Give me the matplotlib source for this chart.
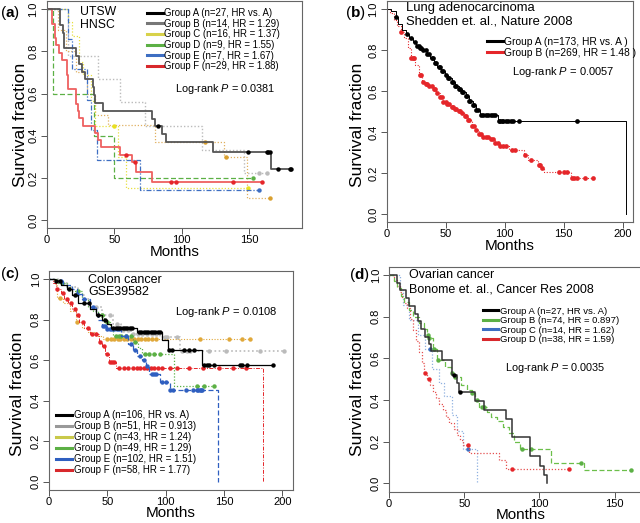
import numpy as np
import matplotlib.pyplot as plt
from matplotlib.lines import Line2D

plt.rcParams['font.family'] = ['Liberation Sans', 'DejaVu Sans']
plt.rcParams['mathtext.fontset'] = 'custom'
plt.rcParams['mathtext.rm'] = 'Liberation Sans'
plt.rcParams['mathtext.it'] = 'Liberation Sans:italic'
plt.rcParams['mathtext.bf'] = 'Liberation Sans:bold'

# ---------------- panel (a) UTSW HNSC ----------------
a_A_t = [0, 10, 12, 13, 22, 24, 26, 28, 34, 35, 36, 42, 78, 80, 85, 88, 123, 166]
a_A_s = [1, 0.926, 0.889, 0.815, 0.778, 0.741, 0.704, 0.667, 0.63, 0.593, 0.556, 0.519, 0.481, 0.444, 0.407, 0.37, 0.324, 0.243]
a_A_c = [82, 149, 163, 164, 165, 171, 180, 181]
a_B_t = [0, 16, 38, 54, 73, 115, 146]
a_B_s = [1, 0.78, 0.67, 0.56, 0.446, 0.33, 0.224]
a_B_c = [157, 163]
a_C_t = [0, 16, 19, 24, 27, 33, 36, 53, 59]
a_C_s = [1, 0.938, 0.875, 0.75, 0.688, 0.563, 0.446, 0.30, 0.15]
a_C_c = [50, 149]
a_C2_t = [0, 8, 14, 22, 30, 36, 45, 80, 131, 148]
a_C2_s = [1, 0.9, 0.8, 0.7, 0.6, 0.5, 0.45, 0.372, 0.30, 0.104]
a_C2_c = [117, 133, 165]
a_D_t = [0, 5, 35, 50]
a_D_s = [1, 0.6, 0.4, 0.2]
a_D_c = [153]
a_E_t = [0, 16, 19, 30, 33, 37, 69]
a_E_s = [1, 0.857, 0.714, 0.571, 0.429, 0.286, 0.143]
a_E_c = [157]
a_F_t = [0, 4, 6, 7, 9, 11, 15, 16, 22, 23, 24, 27, 36, 38, 40, 54, 63, 66, 78]
a_F_s = [1, 0.931, 0.862, 0.828, 0.793, 0.759, 0.69, 0.621, 0.552, 0.517, 0.483, 0.448, 0.414, 0.379, 0.345, 0.31, 0.274, 0.228, 0.182]
a_F_c = [59, 65, 92, 96, 138, 159]
a_labels = ['Group A (n=27, HR vs. A)', 'Group B (n=14, HR = 1.29)', 'Group C (n=16, HR = 1.37)',
            'Group D (n=9, HR = 1.55)', 'Group E (n=7, HR = 1.67)', 'Group F (n=29, HR = 1.88)']

# ---------------- panel (b) lung ----------------
b_A_t = [0, 4, 7.5, 10, 13, 16, 19, 22, 25, 28, 31, 34, 37, 40, 43, 46, 49, 52, 55, 58, 61, 64, 67, 70, 73, 76, 79, 94.5, 203]
b_A_s = [1, 0.99, 0.96, 0.93, 0.90, 0.88, 0.86, 0.84, 0.82, 0.81, 0.80, 0.78, 0.76, 0.74, 0.72, 0.70, 0.68, 0.665, 0.645,
         0.625, 0.61, 0.595, 0.575, 0.555, 0.535, 0.51, 0.485, 0.457, 0.0]
b_A_c = [7.5, 17, 21, 24, 26, 27, 28, 29, 31, 33, 34, 36, 38, 39, 41, 42, 44, 45, 47, 48, 50, 52, 53, 55, 56, 58, 59,
         61, 62, 64, 65, 67, 68, 70, 71, 73, 74, 76, 77, 80, 82, 84, 86, 88, 90, 92, 95, 96, 98, 99, 101, 103, 105, 107,
         112, 161]
b_B_t = [0, 3, 6, 9, 12, 15, 18, 21, 24, 27, 30, 33, 36, 39, 42, 45, 48, 51, 54, 57, 60, 63, 66, 69, 72, 75, 78, 82,
         88, 92, 96, 104, 116, 120, 128, 131, 133, 156]
b_B_s = [1, 0.98, 0.95, 0.92, 0.89, 0.86, 0.81, 0.76, 0.73, 0.68, 0.645, 0.635, 0.625, 0.61, 0.59, 0.57, 0.55, 0.54,
         0.525, 0.515, 0.505, 0.495, 0.48, 0.46, 0.43, 0.41, 0.39, 0.375, 0.365, 0.35, 0.333, 0.314, 0.289, 0.265,
         0.24, 0.224, 0.208, 0.175]
b_B_c = [12, 21, 22, 23, 28, 29, 31, 33, 34, 36, 38, 40, 41, 43, 45, 47, 48, 50, 51, 53, 55, 56, 58, 59, 61, 62, 64,
         66, 67, 69, 70, 72, 74, 76, 78, 80, 82, 84, 86, 88, 90, 92, 94, 96, 99, 101, 106, 109, 117, 122, 129, 130,
         132, 146, 150, 153, 157, 159, 161, 168, 175]
b_labels = ['Group A (n=173, HR vs. A )', 'Group B (n=269, HR = 1.48 )']

# ---------------- panel (c) colon ----------------
c_A_t = [0, 5, 10, 15, 20, 25, 35, 40, 45, 50, 53, 75, 97, 102, 131.5]
c_A_s = [1, 0.99, 0.97, 0.95, 0.92, 0.88, 0.85, 0.82, 0.80, 0.78, 0.76, 0.74, 0.70, 0.65, 0.575]
c_A_c = [6, 9, 17, 22, 30, 34, 42, 48, 55, 57, 59, 61, 63, 65, 67, 69, 71, 77, 79, 81, 83, 85, 87, 89, 91, 93, 95,
         103, 105, 116, 120, 124, 133, 135, 137, 141, 164, 165, 170, 192]
c_B_t = [0, 8, 15, 25, 30, 35, 45, 55, 62, 70, 95, 112]
c_B_s = [1, 0.98, 0.96, 0.92, 0.90, 0.86, 0.82, 0.78, 0.75, 0.73, 0.715, 0.645]
c_B_c = [40, 45, 52, 58, 63, 68, 72, 76, 80, 84, 88, 92, 99, 101, 110, 114, 118, 121, 137, 152, 181, 201]
c_C_t = [0, 4, 7, 12, 18, 23, 28, 33, 40, 46]
c_C_s = [1, 0.975, 0.905, 0.88, 0.84, 0.79, 0.76, 0.74, 0.72, 0.703]
c_C_c = [9, 24, 50, 53, 56, 59, 61, 64, 67, 70, 73, 76, 79, 82, 85, 88, 92, 129, 154, 165, 172]
c_D_t = [0, 8, 15, 20, 28, 33, 38, 42, 47, 52, 55, 72, 76, 80, 107]
c_D_s = [1, 0.98, 0.96, 0.94, 0.90, 0.86, 0.84, 0.82, 0.79, 0.76, 0.72, 0.69, 0.66, 0.63, 0.47]
c_D_c = [11, 25, 45, 50, 57, 60, 62, 66, 70, 74, 82, 86, 90, 95, 127, 133, 141]
c_E_t = [0, 5, 12, 20, 24, 28, 35, 40, 42, 45, 50, 62, 68, 72, 75, 80, 83, 86, 95, 104, 145]
c_E_s = [1, 0.99, 0.97, 0.95, 0.925, 0.90, 0.86, 0.83, 0.80, 0.77, 0.755, 0.72, 0.68, 0.65, 0.62, 0.60, 0.57, 0.53,
         0.49, 0.45, 0.0]
c_E_c = [10, 24, 30, 38, 46, 48, 50, 52, 54, 56, 58, 60, 66, 70, 74, 78, 81, 84, 88, 90, 92, 97, 100, 104, 106, 117,
         123, 127, 128, 129, 130, 131]
c_F_t = [0, 3, 6, 10, 13, 16, 20, 23, 26, 30, 35, 43, 45, 48, 51, 57, 183]
c_F_s = [1, 0.98, 0.95, 0.93, 0.90, 0.88, 0.85, 0.82, 0.79, 0.76, 0.73, 0.69, 0.67, 0.63, 0.59, 0.56, 0.0]
c_F_c = [7, 12, 15, 19, 22, 25, 29, 33, 37, 40, 44, 47, 50, 52, 54, 56, 60, 64, 68, 72, 75, 78, 81, 84, 87, 90, 93,
         97, 104, 110, 120, 132, 146, 158, 169]
c_labels = ['Group A (n=106, HR vs. A)', 'Group B (n=51, HR = 0.913)', 'Group C (n=43, HR = 1.24)',
            'Group D (n=49, HR = 1.29)', 'Group E (n=102, HR = 1.51)', 'Group F (n=58, HR = 1.77)']

# ---------------- panel (d) ovarian ----------------
d_A_t = [0, 5, 7.5, 11, 13.5, 17, 19.5, 21.5, 24, 26.5, 28, 35, 42, 45, 46.5, 57, 63, 77.5, 81.5, 94, 100.5, 103, 105]
d_A_s = [1, 0.963, 0.926, 0.889, 0.852, 0.815, 0.778, 0.741, 0.704, 0.667, 0.636, 0.593, 0.52, 0.48, 0.437, 0.394,
         0.352, 0.307, 0.221, 0.131, 0.083, 0.04, 0.0]
d_A_c = [43.5, 47.5]
d_B_t = [0, 3, 5, 8, 10, 13, 16, 20, 23, 25, 26, 29, 32, 37, 41, 44, 48, 52, 55, 57, 60, 65, 68, 72, 76, 80, 83, 87,
         108, 129.5]
d_B_s = [1, 0.97, 0.94, 0.9, 0.87, 0.83, 0.8, 0.77, 0.74, 0.712, 0.70, 0.643, 0.59, 0.56, 0.528, 0.512, 0.47, 0.45,
         0.435, 0.40, 0.368, 0.34, 0.32, 0.3, 0.27, 0.24, 0.2, 0.163, 0.096, 0.064]
d_B_c = [25.6, 26.3, 29.6, 32.3, 41.9, 44.1, 55.3, 58.6, 61.9, 63, 88.7, 94.7, 127.7, 160.6]
d_C_t = [0, 7, 9, 13, 19, 24, 28.5, 33, 36.5, 42, 45, 49, 58.6]
d_C_s = [1, 0.929, 0.857, 0.786, 0.714, 0.643, 0.55, 0.48, 0.42, 0.33, 0.25, 0.166, 0.0]
d_C_c = [27, 52.6]
d_D_t = [0, 3, 5, 7, 8.5, 10, 12, 14, 16, 18, 20, 22, 23.5, 25, 27, 29, 31, 33, 36, 38, 40, 43, 45, 47, 49, 53.5, 73, 78]
d_D_s = [1, 0.974, 0.947, 0.921, 0.895, 0.868, 0.842, 0.789, 0.737, 0.684, 0.632, 0.579, 0.528, 0.50, 0.47, 0.44,
         0.41, 0.38, 0.35, 0.32, 0.29, 0.26, 0.23, 0.21, 0.186, 0.147, 0.112, 0.069]
d_D_c = [24.1, 26.3, 52.7, 82, 119.4]
d_labels = ['Group A (n=27, HR vs. A)', 'Group B (n=74, HR = 0.897)', 'Group C (n=14, HR = 1.62)',
            'Group D (n=38, HR = 1.59)']

W, H = 640, 523
fig = plt.figure(figsize=(W / 100, H / 100), dpi=100)


def px(x, y):
    # pixel position (from top-left) -> figure fraction
    return x / W, 1 - y / H


def frame(rect, xmax, xticks, ylab_xy):
    ax = fig.add_axes(rect)
    ax.set_xlim(0, xmax)
    ax.set_ylim(-0.04, 1.04)
    ax.set_xticks(xticks)
    ax.set_yticks([0, 0.2, 0.4, 0.6, 0.8, 1.0])
    ax.set_yticklabels(['0.0', '0.2', '0.4', '0.6', '0.8', '1.0'], rotation=90, va='center')
    ax.tick_params(direction='out', length=4, width=0.7, labelsize=8, color='#555555')
    ax.tick_params(axis='x', pad=1)
    ax.tick_params(axis='y', pad=2)
    for sp in ax.spines.values():
        sp.set_color('#666666')
        sp.set_linewidth(0.8)
    ax.set_xlabel('Months', fontsize=11, labelpad=-0.6)
    ax.set_ylabel('Survival fraction', fontsize=12.5)
    ax.yaxis.set_label_coords(*ylab_xy)
    return ax


def km(ax, t, s, cens, color, ls='-', lw=1.0, mcolor=None, ms=3.2):
    end = max(t[-1], max(cens))
    tt = np.append(t, end)
    ss = np.append(s, s[-1])
    ax.step(tt, ss, where='post', color=color, ls=ls, lw=lw)
    idx = np.searchsorted(np.asarray(t), cens, side='right') - 1
    ax.plot(cens, np.asarray(s)[idx], 'o', ms=ms, color=mcolor or color, mec='none')


def legend(ax, colors, labels, x, y, hl, fs, sp):
    hs = [Line2D([], [], color=c, lw=2.2) for c in colors]
    ax.legend(hs, labels, loc='upper left', bbox_to_anchor=px(x, y), bbox_transform=fig.transFigure,
              frameon=False, fontsize=fs, handlelength=hl, handletextpad=0.15, labelspacing=sp,
              borderpad=0, borderaxespad=0)


dot = (0, (1, 1.5))
dash = (0, (4, 2))
dashdot = (0, (4, 1.5, 1, 1.5))

# (a)
ax = frame([0.0730, 0.5633, 0.399, 0.4352], 189, [0, 50, 100, 150], (-0.073, 0.456))
km(ax, a_B_t, a_B_s, a_B_c, '#bbbbbb', dot, 1.0)
km(ax, a_C2_t, a_C2_s, a_C2_c, '#e0b060', dot, 0.9, '#d9a030')
km(ax, a_C_t, a_C_s, a_C_c, '#e8e040', dot, 0.9, '#e8e020')
km(ax, a_D_t, a_D_s, a_D_c, '#5cb045', dash, 0.9)
km(ax, a_E_t, a_E_s, a_E_c, '#3d6ec2', dashdot, 0.9)
km(ax, a_F_t, a_F_s, a_F_c, '#ee6060', '-', 1.3, '#e5262a')
km(ax, a_A_t, a_A_s, a_A_c, '#555555', '-', 1.3, '#000000')
legend(ax, ['#000000', '#777777', '#d8d24a', '#5cb045', '#3d6ec2', '#d8282c'], a_labels, 146.7, 8, 1.7, 6.9, 0.07)
fig.text(*px(80, 11.7), 'UTSW', fontsize=8.8, va='center')
fig.text(*px(80, 25), 'HNSC', fontsize=8.8, va='center')
fig.text(*px(175, 89), 'Log-rank $P$ = 0.0381', fontsize=7.8, va='center')
fig.text(*px(0, 12.5), r'($\mathbf{a}$)', fontsize=11, va='center')

# (b)
ax = frame([0.6042, 0.5746, 0.3853, 0.4233], 209, [0, 50, 100, 150, 200], (-0.089, 0.443))
km(ax, b_B_t, b_B_s, b_B_c, '#e5262a', dot, 0.8, ms=3.4)
km(ax, b_A_t, b_A_s, b_A_c, '#000000', '-', 0.7, ms=3.4)
legend(ax, ['#000000', '#e5262a'], b_labels, 486.7, 37, 1.55, 7.4, 0.1)
fig.text(*px(406, 8.5), 'Lung adenocarcinoma', fontsize=9.4, va='center')
fig.text(*px(406, 22), 'Shedden et. al., Nature 2008', fontsize=9.4, va='center')
fig.text(*px(511.7, 71.7), 'Log-rank $P$ = 0.0057', fontsize=8, va='center')
fig.text(*px(345, 13), r'($\mathbf{b}$)', fontsize=11, va='center')

# (c)
ax = frame([0.0766, 0.0635, 0.381, 0.4186], 209, [0, 50, 100, 150, 200], (-0.100, 0.44))
km(ax, c_B_t, c_B_s, c_B_c, '#bbbbbb', dot, 1.2)
km(ax, c_C_t, c_C_s, c_C_c, '#e0a83a', dot, 0.8)
km(ax, c_D_t, c_D_s, c_D_c, '#5cb045', dot, 0.9)
km(ax, c_F_t, c_F_s, c_F_c, '#e5262a', dashdot, 0.7)
km(ax, c_E_t, c_E_s, c_E_c, '#2f5fc0', dash, 0.9)
km(ax, c_A_t, c_A_s, c_A_c, '#000000', '-', 0.9)
legend(ax, ['#000000', '#999999', '#c9c94a', '#5cb045', '#2f5fc0', '#d8282c'], c_labels, 56, 410.5, 1.65, 7.0, 0.1)
fig.text(*px(88, 280), 'Colon cancer', fontsize=9, va='center')
fig.text(*px(88, 292), 'GSE39582', fontsize=9, va='center')
fig.text(*px(175, 311.7), 'Log-rank $P$ = 0.0108', fontsize=8, va='center')
fig.text(*px(0, 274), r'($\mathbf{c}$)', fontsize=11, va='center')

# (d)
ax = frame([0.6078, 0.060, 0.4114, 0.430], 175, [0, 50, 100, 150], (-0.092, 0.436))
km(ax, d_C_t, d_C_s, d_C_c, '#8fb0e0', dot, 0.9, '#3d6ec2')
km(ax, d_D_t, d_D_s, d_D_c, '#e55050', dot, 0.9, '#e5262a')
km(ax, d_B_t, d_B_s, d_B_c, '#6cbf4a', dash, 0.9, '#5cb045')
km(ax, d_A_t, d_A_s, d_A_c, '#333333', '-', 1.1, '#000000')
legend(ax, ['#000000', '#5cb045', '#3d6ec2', '#d8282c'], d_labels, 483, 306.5, 1.6, 6.8, 0.06)
fig.text(*px(409, 275.5), 'Ovarian cancer', fontsize=9, va='center')
fig.text(*px(409, 290), 'Bonome et. al., Cancer Res 2008', fontsize=9, va='center')
fig.text(*px(505, 368), 'Log-rank $P$ = 0.0035', fontsize=7.8, va='center')
fig.text(*px(349, 275), r'($\mathbf{d}$)', fontsize=11, va='center')

fig.savefig('out.png', dpi=100)
